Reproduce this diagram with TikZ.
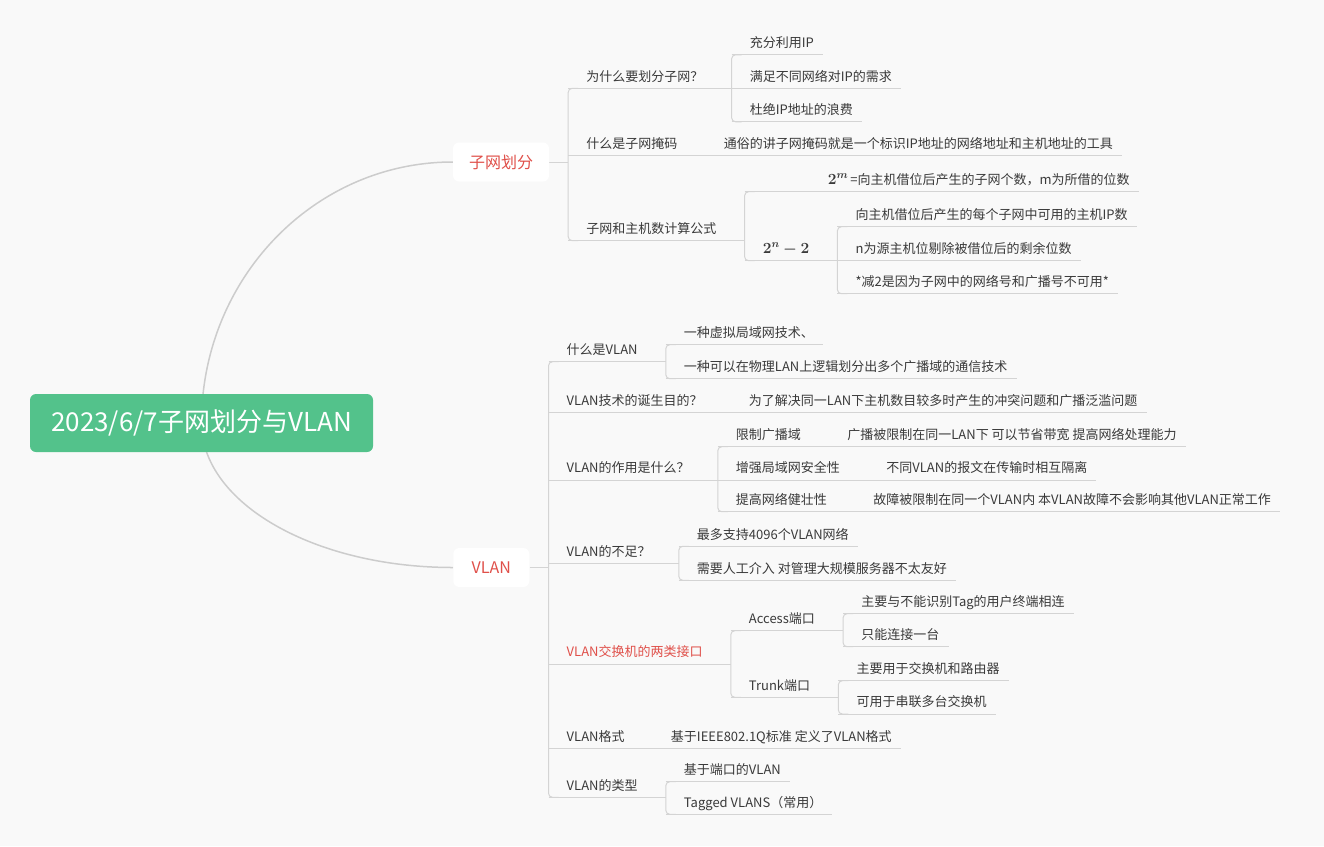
\RequirePackage{fix-cm}
\documentclass[tikz,border=0pt]{standalone}
\usepackage[no-math]{fontspec}
\setmainfont{Noto Sans CJK SC}
\usepackage{bm}

\definecolor{bggray}{RGB}{249,249,249}
\definecolor{linegray}{RGB}{212,212,212}
\definecolor{curvegray}{RGB}{204,204,204}
\definecolor{txtgray}{RGB}{58,58,58}
\definecolor{hotred}{RGB}{224,80,74}
\definecolor{rootgreen}{RGB}{83,194,139}

\pgfdeclarelayer{paper}
\pgfdeclarelayer{links}
\pgfsetlayers{paper,links,main}

\tikzset{
  rootbox/.style={fill=rootgreen, rounded corners=6pt, text=white, font=\fontsize{26}{30}\selectfont, minimum width=343pt, minimum height=58pt},
  mainbox/.style={fill=white, rounded corners=6pt, text=hotred, font=\fontsize{16}{19}\selectfont, minimum height=39pt, inner xsep=16pt},
  topic/.style={anchor=south west, inner xsep=9pt, inner ysep=4.5pt, text height=9.5pt, text depth=2.5pt, font=\fontsize{13}{16}\selectfont, text=txtgray, execute at begin node=\hspace*{9pt}},
  hottopic/.style={topic, text=hotred},
  branch/.style={draw=linegray, line width=1pt},
  mainline/.style={draw=curvegray, line width=1.5pt},
}

% formula a bit larger than the text
\newcommand{\formula}[1]{{\fontsize{15.5}{18}\selectfont$\bm{#1}$}}

% parent end, first child, last child
\newcommand{\fork}[3]{
  \draw[branch] (#1) -- (#1 -| #2.south west);
  \draw[branch, rounded corners=4pt] ([xshift=10pt]#2.south west) -- (#2.south west) -- (#3.south west) -- ([xshift=10pt]#3.south west);
}

\begin{document}
\begin{tikzpicture}[x=1pt, y=-1pt]
\useasboundingbox (0,0) rectangle (1324,846);
\begin{pgfonlayer}{paper}
  \fill[bggray] (0,0) rectangle (1324,846);
\end{pgfonlayer}

\node[rootbox] (root) at (201.5,423) {2023/6/7子网划分与VLAN};
\node[mainbox] (subnet) at (501,162) {子网划分};
\node[mainbox, minimum width=76pt] (vlan) at (491.3,567.5) {VLAN};

% subnetting
\node[topic, xshift=19pt, yshift=73.7pt] (why) at (subnet.east) {为什么要划分子网？};
\node[topic, xshift=19pt, yshift=33.5pt] (why1) at (why.south east) {充分利用IP};
\node[topic, xshift=19pt] (why2) at (why.south east) {满足不同网络对IP的需求};
\node[topic, xshift=19pt, yshift=-33.5pt] (why3) at (why.south east) {杜绝IP地址的浪费};
\node[topic, xshift=19pt, yshift=6.3pt] (mask) at (subnet.east) {什么是子网掩码};
\node[topic, xshift=19pt] (mask1) at (mask.south east) {通俗的讲子网掩码就是一个标识IP地址的网络地址和主机地址的工具};
\node[topic, xshift=19pt, yshift=-78.7pt] (calc) at (subnet.east) {子网和主机数计算公式};
\node[topic, xshift=19pt, yshift=49pt] (calcm) at (calc.south east) {\hspace*{65pt}\formula{2^{m}}\,=向主机借位后产生的子网个数，m为所借的位数};
\node[topic, xshift=19pt, yshift=-20pt] (calcn) at (calc.south east) {\formula{2^{n}-2}};
\node[topic, xshift=19pt, yshift=34pt] (calcn1) at (calcn.south east) {向主机借位后产生的每个子网中可用的主机IP数};
\node[topic, xshift=19pt] (calcn2) at (calcn.south east) {n为源主机位剔除被借位后的剩余位数};
\node[topic, xshift=19pt, yshift=-33pt] (calcn3) at (calcn.south east) {*减2是因为子网中的网络号和广播号不可用*};

% vlan
\node[topic, xshift=19pt, yshift=205.8pt] (what) at (vlan.east) {什么是VLAN};
\node[topic, xshift=19pt, yshift=17pt] (what1) at (what.south east) {一种虚拟局域网技术、};
\node[topic, xshift=19pt, yshift=-17pt] (what2) at (what.south east) {一种可以在物理LAN上逻辑划分出多个广播域的通信技术};
\node[topic, xshift=19pt, yshift=155.2pt] (aim) at (vlan.east) {VLAN技术的诞生目的？};
\node[topic, xshift=19pt] (aim1) at (aim.south east) {为了解决同一LAN下主机数目较多时产生的冲突问题和广播泛滥问题};
\node[topic, xshift=19pt, yshift=87.5pt] (use) at (vlan.east) {VLAN的作用是什么？};
\node[topic, xshift=19pt, yshift=33.3pt] (use1) at (use.south east) {限制广播域};
\node[topic, xshift=19pt] (use1a) at (use1.south east) {广播被限制在同一LAN下 可以节省带宽 提高网络处理能力};
\node[topic, xshift=19pt] (use2) at (use.south east) {增强局域网安全性};
\node[topic, xshift=19pt] (use2a) at (use2.south east) {不同VLAN的报文在传输时相互隔离};
\node[topic, xshift=19pt, yshift=-31.7pt] (use3) at (use.south east) {提高网络健壮性};
\node[topic, xshift=19pt] (use3a) at (use3.south east) {故障被限制在同一个VLAN内 本VLAN故障不会影响其他VLAN正常工作};
\node[topic, xshift=19pt, yshift=4.2pt] (lack) at (vlan.east) {VLAN的不足？};
\node[topic, xshift=19pt, yshift=17pt] (lack1) at (lack.south east) {最多支持4096个VLAN网络};
\node[topic, xshift=19pt, yshift=-17pt] (lack2) at (lack.south east) {需要人工介入 对管理大规模服务器不太友好};
\node[hottopic, xshift=19pt, yshift=-96.5pt] (port) at (vlan.east) {VLAN交换机的两类接口};
\node[topic, xshift=19pt, yshift=33.3pt] (access) at (port.south east) {Access端口};
\node[topic, xshift=19pt, yshift=17pt] (access1) at (access.south east) {主要与不能识别Tag的用户终端相连};
\node[topic, xshift=19pt, yshift=-16pt] (access2) at (access.south east) {只能连接一台};
\node[topic, xshift=19pt, yshift=-33.3pt] (trunk) at (port.south east) {Trunk端口};
\node[topic, xshift=19pt, yshift=16.6pt] (trunk1) at (trunk.south east) {主要用于交换机和路由器};
\node[topic, xshift=19pt, yshift=-16.7pt] (trunk2) at (trunk.south east) {可用于串联多台交换机};
\node[topic, xshift=19pt, yshift=-180.8pt] (fmt) at (vlan.east) {VLAN格式};
\node[topic, xshift=19pt] (fmt1) at (fmt.south east) {基于IEEE802.1Q标准 定义了VLAN格式};
\node[topic, xshift=19pt, yshift=-229.8pt] (kind) at (vlan.east) {VLAN的类型};
\node[topic, xshift=19pt, yshift=15.6pt] (kind1) at (kind.south east) {基于端口的VLAN};
\node[topic, xshift=19pt, yshift=-17pt] (kind2) at (kind.south east) {Tagged VLANS（常用）};

\begin{pgfonlayer}{links}
  \draw[mainline] (root.center) .. controls +(0,-144) and +(-139,0) .. (subnet.west);
  \draw[mainline] (root.center) .. controls +(0,80) and +(-139,0) .. (vlan.west);

  \fork{subnet.east}{why}{calc}
  \fork{why.south east}{why1}{why3}
  \fork{calc.south east}{calcm}{calcn}
  \fork{calcn.south east}{calcn1}{calcn3}
  \fork{vlan.east}{what}{kind}
  \fork{what.south east}{what1}{what2}
  \fork{use.south east}{use1}{use3}
  \fork{lack.south east}{lack1}{lack2}
  \fork{port.south east}{access}{trunk}
  \fork{access.south east}{access1}{access2}
  \fork{trunk.south east}{trunk1}{trunk2}
  \fork{kind.south east}{kind1}{kind2}

  \foreach \a/\b in {mask/mask1, aim/aim1, use1/use1a, use2/use2a, use3/use3a, fmt/fmt1}
    \draw[branch] (\a.south east) -- (\b.south west);

  % underlines
  \foreach \n in {why, why1, why2, why3, mask, mask1, calc, calcm, calcn, calcn1, calcn2, calcn3,
                  what, what1, what2, aim, aim1, use, use1, use1a, use2, use2a, use3, use3a,
                  lack, lack1, lack2, port, access, access1, access2, trunk, trunk1, trunk2,
                  fmt, fmt1, kind, kind1, kind2}
    \draw[branch] (\n.south west) -- (\n.south east);
\end{pgfonlayer}
\end{tikzpicture}
\end{document}
